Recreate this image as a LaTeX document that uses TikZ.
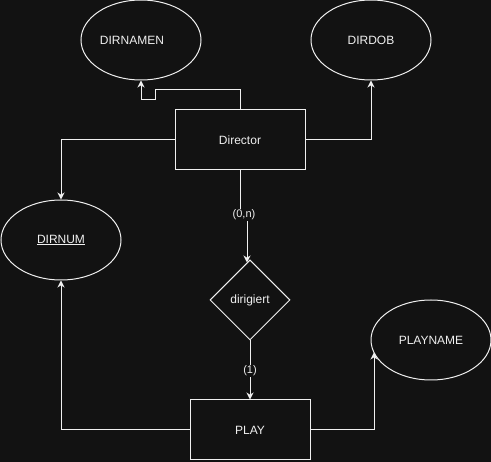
\documentclass[tikz,border=0pt]{standalone}
\usepackage{fontspec}
\setmainfont{Liberation Sans}
\usetikzlibrary{shapes.geometric,arrows.meta,calc}
\definecolor{bg}{HTML}{121212}
\definecolor{fg}{HTML}{F0F0F0}
\begin{document}
\begin{tikzpicture}[x=1pt,y=-1pt,
  every node/.style={text=fg,font=\fontsize{12}{14}\selectfont},
  attr/.style={ellipse,draw=fg,line width=1pt,minimum width=120pt,minimum height=80pt,inner sep=0pt},
  entity/.style={rectangle,draw=fg,line width=1pt,inner sep=0pt},
  rel/.style={diamond,draw=fg,line width=1pt,minimum width=80pt,minimum height=80pt,inner sep=0pt,aspect=1},
  conn/.style={draw=fg,line width=1pt,-{Stealth[length=7pt,width=7pt,inset=2.2pt]}},
  card/.style={fill=bg,inner sep=1pt,font=\fontsize{11}{13}\selectfont}]
\fill[bg] (0,0) rectangle (491,462);
\useasboundingbox (0,0) rectangle (491,462);

\node[attr] (dirnamen) at (141,40) {\makebox[0pt][c]{\hspace{-18pt}DIRNAMEN}};
\node[attr] (dirdob) at (371,40) {DIRDOB};
\node[attr] (dirnum) at (61,240) {\underline{DIRNUM}};
\node[attr] (playname) at (431,340) {PLAYNAME};
\node[entity,minimum width=130pt,minimum height=60pt] (director) at (240,140) {Director};
\node[entity,minimum width=120pt,minimum height=60pt] (play) at (250,430) {PLAY};
\node[rel] (dirig) at (250,300) {dirigiert};

\coordinate (pn) at ($(playname.center)+(-57,12.5)$);
\coordinate (dt) at ($(dirig.north)+(-3,3)$);

\draw[conn] (director.north) |- (155,90) |- (141,100) -- (dirnamen.south);
\draw[conn] (director.east) -| (dirdob.south);
\draw[conn] (director.west) -| (dirnum.north);
\draw[conn] (director.south) -- (240,215) -- (247,215) -- (dt);
\draw[conn] (dirig.south) -- (play.north);
\draw[conn] (play.west) -| (dirnum.south);
\draw[conn] (play.east) -| (pn);

\node[card] (c1) at (244,215) {(0,n)};
\node[card] (c2) at (250,371) {(1)};
\end{tikzpicture}
\end{document}
